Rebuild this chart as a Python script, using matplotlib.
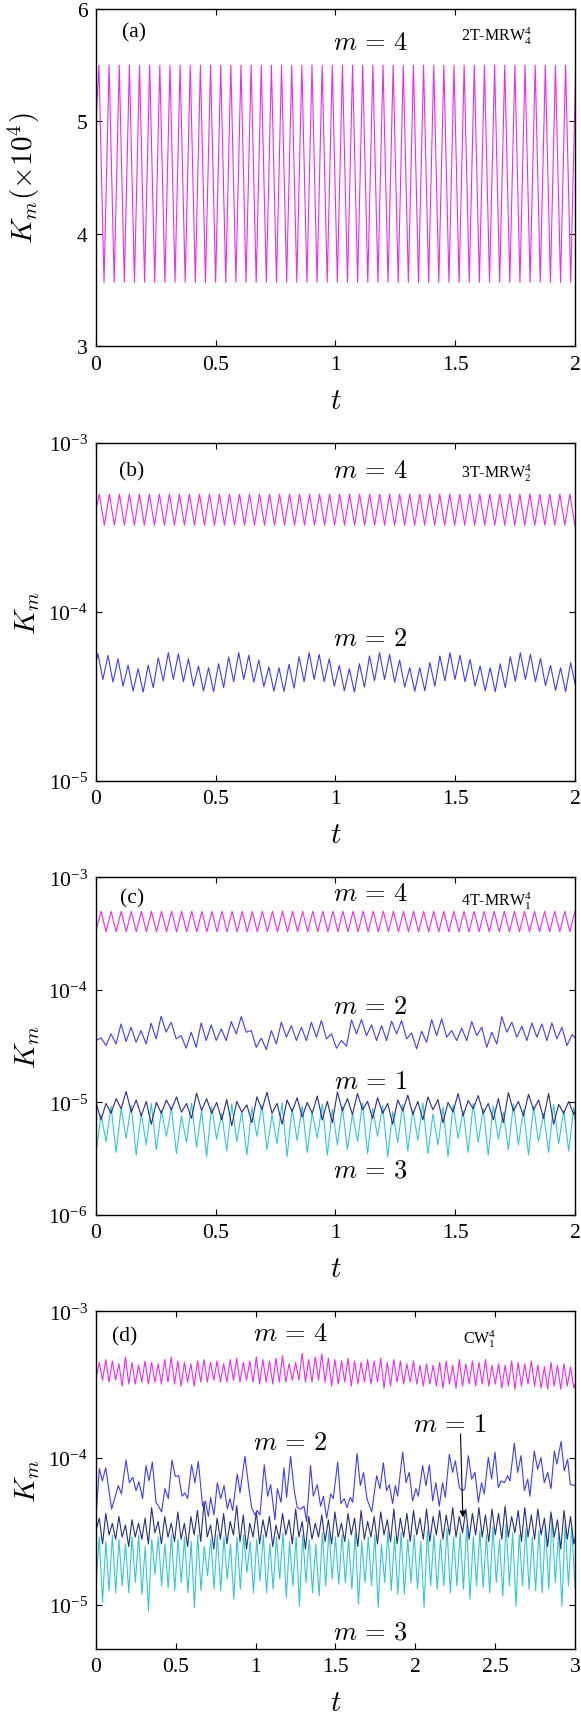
import numpy as np
import matplotlib
matplotlib.use("Agg")
import matplotlib.pyplot as plt
from matplotlib.ticker import FixedLocator, FuncFormatter, NullLocator

plt.rcParams['font.family'] = ['Liberation Serif', 'DejaVu Serif']
plt.rcParams['mathtext.fontset'] = 'custom'
plt.rcParams['mathtext.rm'] = 'Liberation Serif'
plt.rcParams['mathtext.it'] = 'Liberation Serif:italic'

# ---------------- data ----------------
# panel (a): K_4 in units of 1e-4 ; first value at t=0, then extrema
a_m4_tfirst, a_m4_dt = 0.0124, 0.02118
a_m4 = [5.0,
        5.50, 3.57, 5.50, 3.57, 5.50, 3.57, 5.50, 3.57, 5.50, 3.57,
        5.50, 3.57, 5.50, 3.57, 5.50, 3.57, 5.50, 3.57, 5.50, 3.57,
        5.50, 3.57, 5.50, 3.57, 5.50, 3.57, 5.50, 3.57, 5.50, 3.57,
        5.50, 3.57, 5.50, 3.57, 5.50, 3.57, 5.50, 3.57, 5.50, 3.57,
        5.50, 3.57, 5.50, 3.57, 5.50, 3.57, 5.50, 3.57, 5.50, 3.57,
        5.50, 3.57, 5.50, 3.57, 5.50, 3.57, 5.50, 3.57, 5.50, 3.57,
        5.50, 3.57, 5.50, 3.57, 5.50, 3.57, 5.50, 3.57, 5.50, 3.57,
        5.50, 3.57, 5.50, 3.57, 5.50, 3.57, 5.50, 3.57, 5.50, 3.57,
        5.50, 3.57, 5.50, 3.57, 5.50, 3.57, 5.50, 3.57, 5.50, 3.57,
        5.50, 3.57, 5.50, 3.57, 5.50]

# panel (b): units 1e-4 (m=4) and 1e-5 (m=2)
b_m4_tfirst, b_m4_dt = 0.014, 0.0209
b_m4 = [4.0,
        4.98, 3.26, 4.98, 3.26, 4.98, 3.26, 4.98, 3.26, 4.98, 3.26,
        4.98, 3.26, 4.98, 3.26, 4.98, 3.26, 4.98, 3.26, 4.98, 3.26,
        4.98, 3.26, 4.98, 3.26, 4.98, 3.26, 4.98, 3.26, 4.98, 3.26,
        4.98, 3.26, 4.98, 3.26, 4.98, 3.26, 4.98, 3.26, 4.98, 3.26,
        4.98, 3.26, 4.98, 3.26, 4.98, 3.26, 4.98, 3.26, 4.98, 3.26,
        4.98, 3.26, 4.98, 3.26, 4.98, 3.26, 4.98, 3.26, 4.98, 3.26,
        4.98, 3.26, 4.98, 3.26, 4.98, 3.26, 4.98, 3.26, 4.98, 3.26,
        4.98, 3.26, 4.98, 3.26, 4.98, 3.26, 4.98, 3.26, 4.98, 3.26,
        4.98, 3.26, 4.98, 3.26, 4.98, 3.26, 4.98, 3.26, 4.98, 3.26,
        4.98, 3.26, 4.98, 3.26, 4.98, 3.26]
b_m2_tfirst, b_m2_dt = 0.008, 0.021
b_m2 = [5.0,
        5.65, 3.97, 5.52, 3.83, 5.27, 3.62, 4.83, 3.39, 4.60, 3.34, 4.83, 3.55, 5.34, 3.89,
        5.72, 3.97, 5.65, 3.85, 5.27, 3.62, 4.77, 3.39, 4.66, 3.36, 4.92, 3.55, 5.40, 3.85,
        5.72, 3.97, 5.52, 3.83, 5.17, 3.60, 4.71, 3.38, 4.66, 3.37, 4.88, 3.52, 5.42, 3.85,
        5.72, 3.97, 5.59, 3.85, 5.27, 3.62, 4.81, 3.40, 4.60, 3.34, 4.92, 3.57, 5.47, 3.90,
        5.72, 3.97, 5.59, 3.83, 5.17, 3.58, 4.66, 3.38, 4.66, 3.40, 5.00, 3.62, 5.47, 3.90,
        5.72, 3.97, 5.52, 3.85, 5.22, 3.62, 4.77, 3.40, 4.66, 3.36, 4.92, 3.55, 5.42, 3.88,
        5.72, 3.97, 5.59, 3.85, 5.29, 3.65, 4.81, 3.42, 4.66, 3.36, 4.99, 3.60]

# panel (c): units 1e-4 (m=4) and 1e-5 (m=2, m=1, m=3); values from t=0
c_m4_dt = 0.02105
c_m4 = [3.35,
        4.99, 3.29, 4.99, 3.29, 4.99, 3.29, 4.99, 3.29, 4.99, 3.29,
        4.99, 3.29, 4.99, 3.29, 4.99, 3.29, 4.99, 3.29, 4.99, 3.29,
        4.99, 3.29, 4.99, 3.29, 4.99, 3.29, 4.99, 3.29, 4.99, 3.29,
        4.99, 3.29, 4.99, 3.29, 4.99, 3.29, 4.99, 3.29, 4.99, 3.29,
        4.99, 3.29, 4.99, 3.29, 4.99, 3.29, 4.99, 3.29, 4.99, 3.29,
        4.99, 3.29, 4.99, 3.29, 4.99, 3.29, 4.99, 3.29, 4.99, 3.29,
        4.99, 3.29, 4.99, 3.29, 4.99, 3.29, 4.99, 3.29, 4.99, 3.29,
        4.99, 3.29, 4.99, 3.29, 4.99, 3.29, 4.99, 3.29, 4.99, 3.29,
        4.99, 3.29, 4.99, 3.29, 4.99, 3.29, 4.99, 3.29, 4.99, 3.29,
        4.99, 3.29, 4.99, 3.29, 4.99]
c_m2_dt = 0.02092
c_m2 = [3.55, 3.75,
        3.20, 4.07, 3.31, 4.99, 3.48, 4.66, 3.43, 4.35, 3.31, 5.06,
        3.67, 5.83, 4.21, 5.16, 3.67, 3.93, 3.03, 4.21, 3.09, 5.09,
        3.55, 4.89, 3.55, 4.50, 3.55, 5.23, 4.07, 5.79, 4.21, 4.35,
        3.09, 3.72, 2.95, 4.35, 3.31, 5.16, 3.80, 4.82, 3.55, 4.66,
        3.55, 5.16, 3.80, 5.34, 3.67, 4.07, 3.03, 3.55, 3.16, 5.40,
        4.07, 5.45, 3.93, 4.89, 3.55, 4.82, 3.55, 5.27, 4.07, 5.34,
        3.67, 4.15, 2.99, 4.29, 3.43, 5.45, 3.93, 5.53, 3.80, 4.35,
        3.55, 4.57, 3.55, 5.23, 3.93, 4.66, 3.09, 4.21, 3.31, 5.79,
        4.21, 5.16, 3.80, 4.76, 3.55, 5.09, 3.80, 4.99, 3.55, 5.09,
        3.67, 4.66, 3.20,
        4.00, 3.60]
c_m1_dt = 0.021
c_m1 = [1.00,
        0.70, 0.98, 0.80, 1.08, 0.88, 1.25, 0.82, 1.05, 0.76, 1.02,
        0.64, 1.00, 0.80, 1.05, 0.86, 1.12, 0.82, 0.98, 0.72, 1.21,
        0.85, 1.08, 0.80, 1.00, 0.70, 1.06, 0.62, 1.02, 0.82, 0.95,
        0.66, 1.12, 0.86, 1.23, 0.80, 0.98, 0.64, 1.05, 0.83, 1.10,
        0.74, 1.00, 0.80, 1.14, 0.70, 1.02, 0.66, 1.24, 0.84, 1.08,
        0.78, 1.20, 0.86, 1.02, 0.72, 1.10, 0.80, 0.98, 0.64, 1.05,
        0.84, 1.16, 0.78, 1.02, 0.70, 1.12, 0.86, 1.06, 0.66, 1.00,
        0.82, 1.20, 0.76, 1.04, 0.88, 1.15, 0.80, 0.98, 0.70, 1.08,
        0.66, 1.22, 0.84, 1.02, 0.76, 1.18, 0.86, 1.05, 0.72, 1.20,
        0.64, 0.96, 0.80, 1.02, 0.78, 1.00]
c_m3_dt = 0.021
c_m3 = [0.35,
        0.78, 0.45, 0.92, 0.36, 0.88, 0.48, 0.95, 0.34, 0.80, 0.42,
        0.98, 0.38, 0.85, 0.50, 0.90, 0.35, 0.76, 0.44, 0.99, 0.40,
        0.86, 0.33, 0.92, 0.47, 0.80, 0.37, 0.97, 0.45, 0.84, 0.34,
        0.90, 0.50, 0.95, 0.38, 0.78, 0.43, 0.99, 0.33, 0.88, 0.46,
        0.93, 0.36, 0.82, 0.48, 0.97, 0.34, 0.87, 0.42, 0.92, 0.38,
        0.80, 0.45, 0.99, 0.35, 0.88, 0.50, 0.94, 0.33, 0.83, 0.44,
        0.96, 0.37, 0.86, 0.46, 0.99, 0.35, 0.79, 0.42, 0.91, 0.33,
        0.95, 0.48, 0.84, 0.36, 0.98, 0.44, 0.88, 0.34, 0.93, 0.47,
        0.82, 0.38, 0.97, 0.42, 0.86, 0.34, 0.92, 0.45, 0.80, 0.36,
        0.96, 0.43, 0.85, 0.37, 0.90, 0.35]

# panel (d): units 1e-4 (m=4) and 1e-5 (m=2, m=1, m=3)
d_m4_dt = 0.0205
d_m4 = [3.5,
        4.5, 3.4, 4.7, 3.3, 4.6, 3.4, 4.4, 3.1, 4.9, 3.2, 4.5, 3.2, 4.3, 3.3, 4.6, 3.2, 4.5, 3.3, 4.4, 3.2, 4.7, 3.3, 4.9, 3.2,
        4.6, 3.1, 4.5, 3.3, 4.4, 3.1, 4.6, 3.3, 4.7, 3.3, 4.5, 3.4, 4.6, 3.3, 4.4, 3.3, 4.7, 3.4, 4.8, 3.3, 4.5, 3.4, 4.6, 3.3,
        4.9, 3.2, 4.7, 3.3, 4.6, 3.2, 4.8, 3.3, 5.0, 3.3, 4.4, 3.4, 4.5, 3.4, 5.2, 3.3, 4.7, 3.3, 4.9, 3.4, 5.15, 3.3, 4.8, 3.1,
        4.7, 3.2, 4.6, 3.3, 4.8, 3.1, 4.6, 3.2, 4.5, 3.3, 4.7, 3.2, 4.6, 3.3, 4.8, 3.0, 4.5, 3.1, 4.7, 3.3, 4.6, 3.2, 4.4, 3.3,
        4.6, 3.2, 4.3, 3.1, 4.4, 3.2, 4.3, 3.1, 4.5, 3.0, 4.6, 3.2, 4.3, 3.0, 4.7, 3.1, 4.4, 3.2, 4.6, 3.1, 4.5, 3.2, 4.7, 3.1,
        4.3, 3.2, 4.4, 3.0, 4.3, 3.1, 4.6, 2.95, 4.5, 3.1, 4.4, 3.2, 4.6, 3.1, 4.3, 3.0, 4.2, 2.95, 4.5, 3.1, 4.3, 2.95, 4.4, 3.1, 4.2, 3.0,
        3.6]
d_m2_t = [0.000, 0.021, 0.040, 0.061, 0.098, 0.140, 0.159, 0.188, 0.209, 0.230, 0.251, 0.269, 0.292, 0.313, 0.332,
          0.353, 0.376, 0.392, 0.411, 0.432, 0.453, 0.476, 0.497, 0.518, 0.539, 0.557, 0.574, 0.599, 0.620, 0.641,
          0.668, 0.685, 0.704, 0.718, 0.739, 0.760, 0.781, 0.802, 0.823, 0.839, 0.856, 0.885, 0.902, 0.933, 0.958,
          0.975, 0.996, 1.010, 1.027, 1.054, 1.075, 1.094, 1.121, 1.136, 1.159, 1.177, 1.194, 1.219, 1.242, 1.261,
          1.282, 1.303, 1.319, 1.344, 1.361, 1.386, 1.407, 1.424, 1.445, 1.470, 1.486, 1.514, 1.534, 1.555, 1.572,
          1.593, 1.608, 1.635, 1.656, 1.676, 1.697, 1.727, 1.758, 1.779, 1.800, 1.820, 1.837, 1.858, 1.875, 1.889,
          1.921, 1.942, 1.962, 1.983, 2.004, 2.019, 2.046, 2.067, 2.088, 2.109, 2.129, 2.150, 2.171, 2.188, 2.213,
          2.234, 2.251, 2.276, 2.296, 2.311, 2.332, 2.353, 2.374, 2.395, 2.415, 2.432, 2.457, 2.478, 2.499, 2.520,
          2.537, 2.558, 2.578, 2.593, 2.620, 2.641, 2.662, 2.683, 2.704, 2.718, 2.745, 2.766, 2.787, 2.808, 2.829,
          2.850, 2.871, 2.887, 2.913, 2.933, 2.954, 2.971, 3.000]
d_m2 = [4.0, 8.5, 7.0, 8.6, 4.5, 6.5, 5.7, 9.7, 6.8, 7.4, 6.0, 6.9, 5.3, 8.9, 7.0,
        9.4, 5.0, 4.7, 4.3, 6.2, 5.3, 9.7, 7.5, 7.6, 5.5, 5.8, 5.3, 9.0, 6.8, 9.5,
        4.7, 5.1, 4.0, 5.4, 4.1, 6.8, 5.3, 6.5, 4.5, 5.3, 4.4, 7.8, 5.8, 10.3, 6.2,
        4.6, 4.1, 4.4, 4.1, 9.0, 5.5, 6.6, 3.8, 6.2, 5.0, 8.6, 5.4, 10.3, 6.0, 4.6,
        4.5, 4.7, 3.7, 8.9, 5.5, 6.6, 4.7, 5.5, 3.9, 5.7, 5.3, 9.4, 4.9, 5.3, 4.6,
        5.4, 5.0, 10.8, 6.5, 8.0, 5.3, 4.3, 7.6, 6.2, 9.3, 6.0, 6.6, 4.9, 6.5, 5.5,
        11.0, 6.8, 8.0, 5.1, 6.2, 5.5, 8.9, 6.5, 9.0, 5.1, 6.8, 4.7, 6.8, 5.4, 10.6,
        8.0, 9.6, 6.3, 6.0, 6.2, 10.4, 7.2, 8.0, 5.0, 6.8, 5.7, 10.1, 7.2, 11.0, 6.3,
        7.0, 6.8, 7.6, 7.0, 12.6, 8.0, 10.4, 6.0, 7.2, 5.5, 11.2, 8.4, 10.1, 6.8, 8.0,
        6.2, 11.2, 9.1, 13.0, 8.2, 9.8, 6.6, 6.5]
d_m1_dt = 0.0205
d_m1 = [3.2,
        3.9, 2.6, 4.2, 3.0, 3.6, 2.8, 4.0, 2.9, 3.5, 2.5, 3.8, 2.9, 3.6, 2.8, 3.9, 2.6, 4.6, 3.1, 3.7, 2.6, 4.0, 2.9, 3.6, 2.7,
        4.3, 2.8, 3.6, 2.5, 4.0, 3.0, 4.4, 2.7, 5.0, 2.9, 3.5, 2.4, 3.9, 2.8, 4.2, 2.6, 3.7, 3.0, 4.75, 2.7, 4.1, 2.4, 3.6, 2.9,
        4.3, 2.6, 3.8, 2.9, 4.0, 2.5, 3.5, 2.8, 4.2, 3.0, 3.8, 2.6, 4.5, 2.9, 3.7, 2.4, 4.0, 2.8, 3.6, 2.9, 4.1, 2.7, 3.8, 2.6,
        4.3, 2.9, 3.6, 2.7, 4.2, 3.0, 3.9, 2.5, 4.4, 2.8, 3.7, 2.9, 4.0, 2.6, 4.3, 3.0, 3.8, 2.7, 4.5, 2.6, 3.9, 2.9, 4.2, 2.7,
        4.4, 3.0, 3.9, 2.8, 4.5, 2.7, 4.0, 3.0, 4.4, 2.8, 4.1, 3.0, 4.6, 2.9, 4.0, 3.1, 4.5, 2.8, 4.2, 3.0, 4.6, 2.9, 4.1, 2.7,
        4.5, 3.0, 4.2, 2.8, 4.7, 2.9, 4.0, 3.1, 4.4, 2.7, 4.6, 2.9, 4.1, 2.8, 4.5, 3.0, 3.9, 2.5, 4.3, 2.9, 3.8, 2.4, 4.4, 2.8, 4.0, 2.6,
        3.3]
d_m3_dt = 0.02055
d_m3_troughs = [1.35, 1.04, 1.25, 1.21, 1.35, 1.21, 1.42, 1.18, 0.91, 1.62,
                1.35, 1.31, 1.25, 1.42, 1.21, 0.96, 1.25, 1.58, 1.28, 1.25,
                1.50, 1.09, 1.28, 1.66, 1.21, 1.46, 1.21, 1.28, 1.50, 1.12,
                1.35, 0.98, 1.42, 1.21, 1.15, 1.35, 1.50,
                1.38, 1.42, 1.28, 1.01, 1.42, 1.35, 0.96, 1.42, 1.25, 1.18,
                1.18, 1.42, 1.28, 0.96, 1.35, 1.28, 1.35, 1.21, 1.35, 1.28,
                1.09, 1.35, 1.31, 1.21, 1.42, 1.15, 1.35, 0.98, 1.35, 1.28,
                1.25, 1.21, 1.28, 1.42, 0.98, 1.35, 1.30]
d_m3_peaks = [2.9, 2.7, 3.0, 2.8, 2.6, 2.9, 3.0, 2.5, 2.8, 2.9,
              2.6, 3.0, 2.8, 2.9, 2.7, 3.0, 2.5, 2.8, 3.0, 2.9,
              2.6, 2.9, 3.0, 2.7, 2.8, 3.0, 2.6, 2.9, 3.1, 2.7,
              2.9, 3.0, 2.8, 2.6, 3.1, 3.2, 2.9,
              3.0, 2.8, 3.1, 2.7, 2.9, 3.0, 2.6, 3.2, 2.9, 3.1,
              2.8, 3.0, 2.7, 3.2, 3.0, 2.8, 3.3, 2.9, 3.1, 3.5,
              2.9, 3.2, 3.0, 3.4, 2.8, 3.6, 3.1, 3.0, 3.3, 2.9,
              3.2, 3.5, 3.9, 3.1, 3.6, 3.4]

# colours of the four modes
col_m4 = '#f028f0'
col_m2 = '#3d3df5'
col_m1 = '#2c2c86'
col_m3 = '#30c8d6'


def tgrid(t_first, dt, n):
    return t_first + dt * np.arange(n)


def lead_grid(t_first, dt, n):
    # first sample sits at t = 0, the others on the extrema grid
    return np.concatenate(([0.0], tgrid(t_first, dt, n - 1)))


def interleave(first, second):
    out = []
    for i in range(max(len(first), len(second))):
        if i < len(first):
            out.append(first[i])
        if i < len(second):
            out.append(second[i])
    return np.array(out)


fig = plt.figure(figsize=(5.81, 17.15), dpi=100)
L, W, H = 0.1652, 0.8244, 0.1968
ax_a = fig.add_axes([L, 0.7974, W, H])
ax_b = fig.add_axes([L, 0.5443, W, H])
ax_c = fig.add_axes([L, 0.2910, W, H])
ax_d = fig.add_axes([L, 0.0379, W, H])

LW = 0.8
TICK_FS = 15.5
LAB_FS = 21
M_FS = 19
YLAB_X = -0.112
XLAB_Y = -0.122


def style(ax, xmax, log=True, ylim=None):
    ax.set_xlim(0, xmax)
    ax.set_xticks(np.arange(0, xmax + 0.01, 0.5))
    ax.xaxis.set_major_formatter(FuncFormatter(lambda v, p: '%g' % v))
    if log:
        ax.set_yscale('log')
        ax.set_ylim(*ylim)
        decs = [10.0 ** k for k in range(-7, 0) if ylim[0] <= 10.0 ** k <= ylim[1] * 1.0001]
        ax.yaxis.set_major_locator(FixedLocator(decs))
        ax.yaxis.set_minor_locator(NullLocator())
        ax.yaxis.set_major_formatter(FuncFormatter(
            lambda v, p: r'$\mathregular{10^{%d}}$' % int(round(np.log10(v)))))
        ax.set_ylabel(r'$K_m$', fontsize=LAB_FS, math_fontfamily='cm')
    ax.tick_params(direction='in', top=True, right=True, length=4.5, width=0.8,
                   labelsize=TICK_FS, pad=6)
    for s in ax.spines.values():
        s.set_linewidth(1.0)
    ax.set_xlabel(r'$t$', fontsize=LAB_FS, math_fontfamily='cm')
    ax.xaxis.set_label_coords(0.5, XLAB_Y)
    ax.yaxis.set_label_coords(YLAB_X, 0.5)


def mlabel(ax, x, y, s):
    ax.text(x, y, s, transform=ax.transAxes, fontsize=M_FS, math_fontfamily='cm',
            ha='center', va='center')


def plabel(ax, x, y, s):
    ax.text(x, y, s, transform=ax.transAxes, fontsize=15.5, ha='center', va='center')


def slabel(ax, x, y, s):
    ax.text(x, y, s, transform=ax.transAxes, fontsize=11.5, ha='center', va='center')


# ---- (a)
ax = ax_a
ax.plot(lead_grid(a_m4_tfirst, a_m4_dt, len(a_m4)), a_m4, color=col_m4, lw=LW)
style(ax, 2, log=False)
ax.set_ylim(3, 6)
ax.set_yticks([3, 4, 5, 6])
ax.set_ylabel(r'$K_m(\times 10^4)$', fontsize=LAB_FS, math_fontfamily='cm')
ax.yaxis.set_label_coords(YLAB_X, 0.5)
plabel(ax, 0.08, 0.931, '(a)')
mlabel(ax, 0.573, 0.899, r'$m\,=\,4$')
slabel(ax, 0.836, 0.921, r'2T-MRW$^{4}_{4}$')

# ---- (b)
ax = ax_b
ax.plot(lead_grid(b_m4_tfirst, b_m4_dt, len(b_m4)), np.array(b_m4) * 1e-4, color=col_m4, lw=LW)
ax.plot(lead_grid(b_m2_tfirst, b_m2_dt, len(b_m2)), np.array(b_m2) * 1e-5, color=col_m2, lw=LW)
style(ax, 2, ylim=(1e-5, 1e-3))
plabel(ax, 0.075, 0.918, '(b)')
mlabel(ax, 0.573, 0.918, r'$m\,=\,4$')
slabel(ax, 0.836, 0.913, r'3T-MRW$^{4}_{2}$')
mlabel(ax, 0.573, 0.418, r'$m\,=\,2$')

# ---- (c)
ax = ax_c
ax.plot(tgrid(0.0, c_m3_dt, len(c_m3)), np.array(c_m3) * 1e-5, color=col_m3, lw=LW)
ax.plot(tgrid(0.0, c_m1_dt, len(c_m1)), np.array(c_m1) * 1e-5, color=col_m1, lw=LW)
ax.plot(tgrid(0.0, c_m2_dt, len(c_m2)), np.array(c_m2) * 1e-5, color=col_m2, lw=LW)
ax.plot(tgrid(0.0, c_m4_dt, len(c_m4)), np.array(c_m4) * 1e-4, color=col_m4, lw=LW)
style(ax, 2, ylim=(1e-6, 1e-3))
plabel(ax, 0.075, 0.938, '(c)')
mlabel(ax, 0.573, 0.951, r'$m\,=\,4$')
slabel(ax, 0.836, 0.931, r'4T-MRW$^{4}_{1}$')
mlabel(ax, 0.573, 0.617, r'$m\,=\,2$')
mlabel(ax, 0.573, 0.393, r'$m\,=\,1$')
mlabel(ax, 0.573, 0.131, r'$m\,=\,3$')

# ---- (d)
ax = ax_d
d_m3 = interleave(d_m3_troughs, d_m3_peaks)
ax.plot(tgrid(0.0, d_m3_dt, len(d_m3)), d_m3 * 1e-5, color=col_m3, lw=LW)
ax.plot(tgrid(0.0, d_m1_dt, len(d_m1)), np.array(d_m1) * 1e-5, color=col_m1, lw=LW)
ax.plot(d_m2_t, np.array(d_m2) * 1e-5, color=col_m2, lw=LW)
ax.plot(tgrid(0.0, d_m4_dt, len(d_m4)), np.array(d_m4) * 1e-4, color=col_m4, lw=LW)
style(ax, 3, ylim=(5e-6, 1e-3))
plabel(ax, 0.060, 0.929, '(d)')
mlabel(ax, 0.406, 0.934, r'$m\,=\,4$')
slabel(ax, 0.801, 0.921, r'CW$^{4}_{1}$')
mlabel(ax, 0.406, 0.611, r'$m\,=\,2$')
mlabel(ax, 0.573, 0.049, r'$m\,=\,3$')
ax.annotate('', xy=(0.766, 0.390), xytext=(0.761, 0.637), xycoords='axes fraction',
            arrowprops=dict(arrowstyle='-|>', color='black', lw=0.8,
                            mutation_scale=9, shrinkA=0, shrinkB=0))
mlabel(ax, 0.739, 0.664, r'$m\,=\,1$')

fig.savefig('out.png', dpi=100)
